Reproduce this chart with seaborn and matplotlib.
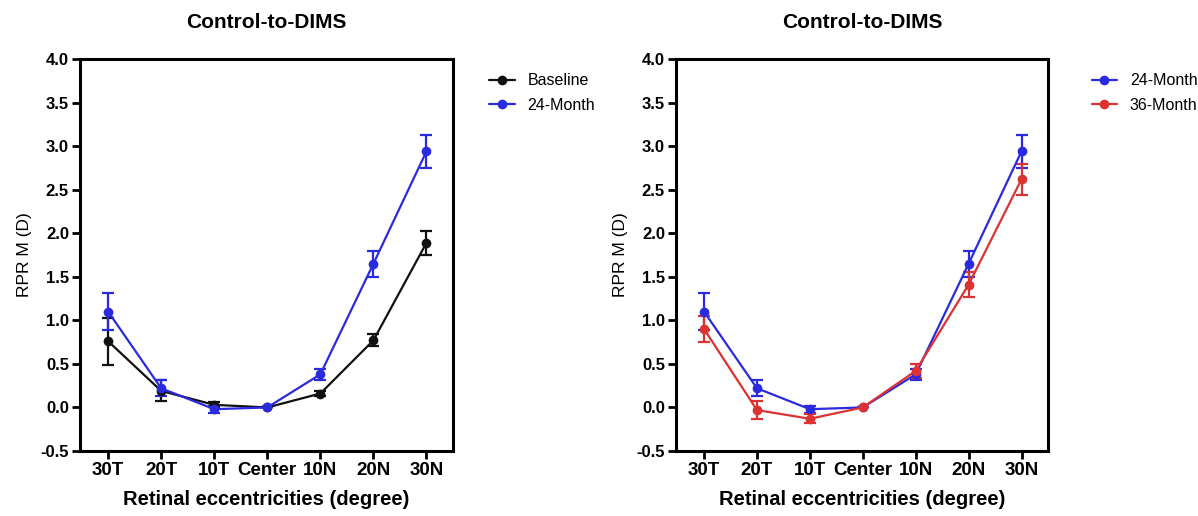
import matplotlib
matplotlib.use("Agg")
import matplotlib.pyplot as plt
import seaborn as sns
import pandas as pd
import numpy as np

categories = ["30T", "20T", "10T", "Center", "10N", "20N", "30N"]

baseline_mean = [0.76, 0.19, 0.03, 0.00, 0.16, 0.77, 1.89]
baseline_err = [0.27, 0.12, 0.03, 0.00, 0.03, 0.07, 0.14]
m24_mean = [1.10, 0.22, -0.02, 0.00, 0.38, 1.65, 2.94]
m24_err = [0.21, 0.09, 0.04, 0.00, 0.06, 0.15, 0.19]
m36_mean = [0.90, -0.03, -0.13, 0.00, 0.42, 1.41, 2.62]
m36_err = [0.15, 0.10, 0.05, 0.00, 0.08, 0.14, 0.18]

yticks = [-0.5, 0.0, 0.5, 1.0, 1.5, 2.0, 2.5, 3.0, 3.5, 4.0]

BLACK = "#111111"
BLUE = "#2a2ae0"
RED = "#dc3232"

sns.set_style("white")
plt.rcParams['font.family'] = ['Liberation Sans', 'DejaVu Sans']
plt.rcParams['text.color'] = 'black'
plt.rcParams['axes.labelcolor'] = 'black'
plt.rcParams['xtick.color'] = 'black'
plt.rcParams['ytick.color'] = 'black'
plt.rcParams['xtick.bottom'] = True
plt.rcParams['ytick.left'] = True
plt.rcParams['xtick.major.size'] = 6
plt.rcParams['ytick.major.size'] = 6
plt.rcParams['xtick.major.width'] = 2
plt.rcParams['ytick.major.width'] = 2
plt.rcParams['xtick.direction'] = 'out'
plt.rcParams['ytick.direction'] = 'out'

fig = plt.figure(figsize=(11.98, 5.16), dpi=100)
ax1 = fig.add_axes([80/1198, 65/516, 373/1198, 392/516])
ax2 = fig.add_axes([676/1198, 65/516, 372/1198, 392/516])

def draw(ax, series, legend_anchor):
    rows = []
    for name, mean, err, col in series:
        for i, c in enumerate(categories):
            rows.append({"x": i, "y": mean[i], "series": name})
    df = pd.DataFrame(rows)
    palette = {s[0]: s[3] for s in series}
    for name, mean, err, col in series:
        ax.errorbar(range(len(categories)), mean, yerr=err, fmt="none",
                    ecolor=col, elinewidth=1.6, capsize=4, capthick=1.6, zorder=2)
    sns.lineplot(data=df, x="x", y="y", hue="series", palette=palette,
                 marker="o", markersize=7, markeredgewidth=0, linewidth=1.6,
                 ax=ax, zorder=3)
    ax.set_xlim(-0.53, 6.5)
    ax.set_ylim(-0.5, 4.0)
    ax.set_xticks(range(len(categories)))
    ax.set_xticklabels(categories, fontsize=13.5, fontweight="bold")
    ax.set_yticks(yticks)
    ax.set_yticklabels([f"{v:.1f}" for v in yticks], fontsize=12, fontweight="bold")
    for sp in ax.spines.values():
        sp.set_visible(True)
        sp.set_color("black")
        sp.set_linewidth(2.2)
    ax.tick_params(axis="both", which="major", direction="out", length=6, width=2,
                   color="black", pad=2, bottom=True, left=True, labelcolor="black")
    ax.set_xlabel("Retinal eccentricities (degree)", fontsize=14.5, fontweight="bold", labelpad=8)
    ax.set_ylabel("RPR M (D)", fontsize=12.5, labelpad=6)
    ax.set_title("Control-to-DIMS", fontsize=15, fontweight="bold", pad=22)
    leg = ax.legend(loc="upper left", bbox_to_anchor=legend_anchor, frameon=False,
                    fontsize=11.5, handlelength=1.6, labelspacing=0.6, borderaxespad=0)
    for t in leg.get_texts():
        t.set_color("black")
    for h in leg.get_lines():
        h.set_linewidth(1.6)

draw(ax1, [("Baseline", baseline_mean, baseline_err, BLACK),
           ("24-Month", m24_mean, m24_err, BLUE)], (1.08, 0.98))
draw(ax2, [("24-Month", m24_mean, m24_err, BLUE),
           ("36-Month", m36_mean, m36_err, RED)], (1.10, 0.98))

fig.savefig("out.png", dpi=100, facecolor="white")
